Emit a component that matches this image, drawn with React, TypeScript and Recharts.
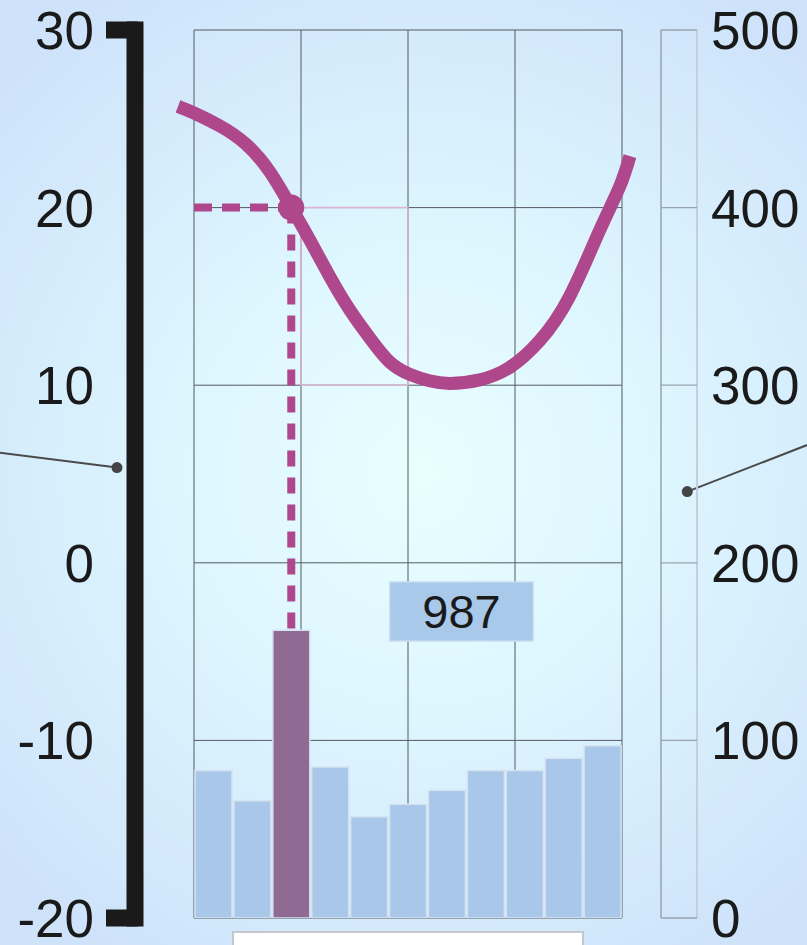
import React from "react";
import {
  ComposedChart,
  LineChart,
  Bar,
  Line,
  Cell,
  XAxis,
  YAxis,
  CartesianGrid,
  ReferenceLine,
  ReferenceDot,
  ReferenceArea,
} from "recharts";

const categories = ["1", "2", "3", "4", "5", "6", "7", "8", "9", "10", "11"];
const barValues = [83, 66, 162, 85, 57, 64, 72, 83, 83, 90, 97];
const highlightIndex = 2;
const leftTicks = [-20, -10, 0, 10, 20, 30];
const rightTicks = [0, 100, 200, 300, 400, 500];
const gridTicks = [0, 1, 2, 3, 4];
const curveX = [
  -0.15, 0.01, 0.24, 0.48, 0.71, 0.91, 1.08, 1.27, 1.46, 1.65, 1.83, 2.02,
  2.2, 2.39, 2.67, 2.95, 3.23, 3.51, 3.79, 3.98, 4.075,
];
const curveY = [
  25.7, 25.3, 24.6, 23.6, 22.0, 20.0, 18.2, 16.1, 14.2, 12.6, 11.3, 10.6,
  10.25, 10.1, 10.3, 11.0, 12.5, 15.0, 18.7, 21.2, 22.9,
];
const markerValue = 20;
const boxLabel = "987";
const leftLeader = [{ x: -1.82, y: 6.2 }, { x: -0.72, y: 5.36 }];
const rightLeader = [{ x: 5.73, y: 6.63 }, { x: 4.61, y: 4.01 }];

const FONT = '"Liberation Sans", Arial, sans-serif';
const PINK = "#ae478c";
const W = 807;
const H = 945;

// gx: bar centre in grid units (0..4 across the plot), ly: bar value on the left scale
const barData = categories.map((name, i) => ({
  name,
  value: barValues[i],
  gx: ((i + 0.5) * 4) / categories.length,
  ly: -20 + barValues[i] / 10,
}));
const curveData = curveX.map((x, i) => ({ x, y: curveY[i] }));

const hx = barData[highlightIndex].gx;
const hBarTop = barData[highlightIndex].ly;

const LeftTick = (props: any) => {
  const { x, y, payload } = props;
  const end = payload.value === leftTicks[0] || payload.value === leftTicks[leftTicks.length - 1];
  return (
    <g>
      {end && <rect x={x + 12} y={y - 8.5} width={32} height={17} fill="#1a1a1a" />}
      <text x={x} y={y} dy="0.36em" textAnchor="end" fontSize={53} fontFamily={FONT} fill="#1a1a1a">
        {payload.value}
      </text>
    </g>
  );
};

// the right "frame" axis: a line across the frame at each tick
const FrameTick = (props: any) => {
  const { x, y } = props;
  return <line x1={x - 36} x2={x} y1={y} y2={y} stroke="#98a3ae" strokeWidth={1.3} />;
};

const RightTick = (props: any) => {
  const { x, y, payload } = props;
  return (
    <text x={x} y={y} dy="0.36em" textAnchor="start" fontSize={53} fontFamily={FONT} fill="#1a1a1a">
      {payload.value}
    </text>
  );
};

export default function App() {
  return (
    <div
      style={{
        position: "absolute",
        left: 0,
        top: 0,
        width: W,
        height: H,
        overflow: "hidden",
        background:
          "radial-gradient(ellipse 70% 60% at 52% 50%, #e8ffff 0%, #ddf5fe 45%, #cee3fa 100%)",
      }}
    >
      <ComposedChart
        width={W}
        height={H}
        data={barData}
        margin={{ top: 30, right: 0, bottom: 27, left: 0 }}
        barCategoryGap={1}
        style={{ position: "absolute", left: 0, top: 0 }}
      >
        <XAxis xAxisId="cat" dataKey="name" hide />
        <XAxis xAxisId="grid" dataKey="gx" type="number" domain={[0, 4]} ticks={gridTicks} allowDataOverflow hide />
        {/* spacer axes to push the visible axes away from the plot */}
        <YAxis yAxisId="dl" dataKey="value" orientation="left" width={59} domain={[0, 500]} axisLine={false} tickLine={false} tick={false} />
        <YAxis
          yAxisId="left"
          dataKey="ly"
          orientation="left"
          width={135}
          domain={[-20, 30]}
          allowDataOverflow
          ticks={leftTicks}
          axisLine={{ stroke: "#1a1a1a", strokeWidth: 17, strokeLinecap: "square" }}
          tickLine={false}
          tickSize={0}
          tickMargin={41}
          tick={<LeftTick />}
        />
        <YAxis yAxisId="dr" dataKey="value" orientation="right" width={39} domain={[0, 500]} axisLine={false} tickLine={false} tick={false} />
        <YAxis
          yAxisId="r1"
          dataKey="value"
          orientation="right"
          width={36}
          domain={[0, 500]}
          allowDataOverflow
          ticks={rightTicks}
          axisLine={{ stroke: "#98a3ae", strokeWidth: 1.5 }}
          tickLine={false}
          tickSize={36}
          tickMargin={0}
          tick={<FrameTick />}
        />
        <YAxis
          yAxisId="r2"
          dataKey="value"
          orientation="right"
          width={110}
          domain={[0, 500]}
          allowDataOverflow
          ticks={rightTicks}
          axisLine={{ stroke: "#c3d0dc", strokeWidth: 2 }}
          tickLine={false}
          tickSize={0}
          tickMargin={14}
          tick={<RightTick />}
        />
        <CartesianGrid xAxisId="grid" yAxisId="left" stroke="#555a60" strokeWidth={1} />
        <ReferenceArea
          xAxisId="grid"
          yAxisId="left"
          x1={1}
          x2={2}
          y1={10}
          y2={20}
          fill="none"
          stroke="#e0b2d2"
          strokeWidth={1.5}
        />
        <Bar xAxisId="cat" yAxisId="r1" dataKey="value" stroke="#d5e3f1" strokeWidth={1.5} isAnimationActive={false}>
          {barData.map((d, i) => (
            <Cell key={d.name} fill={i === highlightIndex ? "#8f6b94" : "#a9c8e9"} />
          ))}
        </Bar>
        <ReferenceArea
          xAxisId="grid"
          yAxisId="left"
          x1={1.83}
          x2={3.17}
          y1={-4.4}
          y2={-1.08}
          fill="#a9c9ea"
          fillOpacity={1}
          stroke="#c6dbf0"
          strokeWidth={1.5}
          label={{ value: boxLabel, position: "center", fontSize: 47, fill: "#1a1a1a", fontFamily: FONT }}
        />
        <ReferenceLine
          xAxisId="grid"
          yAxisId="left"
          segment={[{ x: 0, y: markerValue }, { x: hx, y: markerValue }]}
          stroke={PINK}
          strokeWidth={8}
          strokeDasharray="18 10"
          ifOverflow="visible"
        />
        <ReferenceLine
          xAxisId="grid"
          yAxisId="left"
          segment={[{ x: hx, y: markerValue }, { x: hx, y: hBarTop }]}
          stroke={PINK}
          strokeWidth={8}
          strokeDasharray="16 11"
          ifOverflow="visible"
        />
        <ReferenceDot xAxisId="grid" yAxisId="left" x={hx} y={markerValue} r={13} fill={PINK} stroke="none" ifOverflow="visible" />
        <ReferenceLine xAxisId="grid" yAxisId="left" segment={leftLeader} stroke="#4a4a4a" strokeWidth={2} ifOverflow="visible" />
        <ReferenceDot xAxisId="grid" yAxisId="left" x={leftLeader[1].x} y={leftLeader[1].y} r={5.5} fill="#444" stroke="none" ifOverflow="visible" />
        <ReferenceLine xAxisId="grid" yAxisId="left" segment={rightLeader} stroke="#4a4a4a" strokeWidth={2} ifOverflow="visible" />
        <ReferenceDot xAxisId="grid" yAxisId="left" x={rightLeader[1].x} y={rightLeader[1].y} r={5.5} fill="#444" stroke="none" ifOverflow="visible" />
      </ComposedChart>

      {/* the curve overflows the plot on both sides, so it gets its own wider plot */}
      <LineChart
        width={W}
        height={H}
        data={curveData}
        margin={{ top: 30, right: 177, bottom: 27, left: 178 }}
        style={{ position: "absolute", left: 0, top: 0, pointerEvents: "none" }}
      >
        <XAxis type="number" dataKey="x" domain={[curveX[0], curveX[curveX.length - 1]]} hide />
        <YAxis domain={[-20, 30]} hide />
        <Line type="natural" dataKey="y" stroke={PINK} strokeWidth={13} dot={false} isAnimationActive={false} />
      </LineChart>

      <div
        style={{
          position: "absolute",
          left: 232,
          top: 931,
          width: 352,
          height: 40,
          boxSizing: "border-box",
          background: "#ffffff",
          border: "2px solid #c4c8cc",
        }}
      />
    </div>
  );
}
